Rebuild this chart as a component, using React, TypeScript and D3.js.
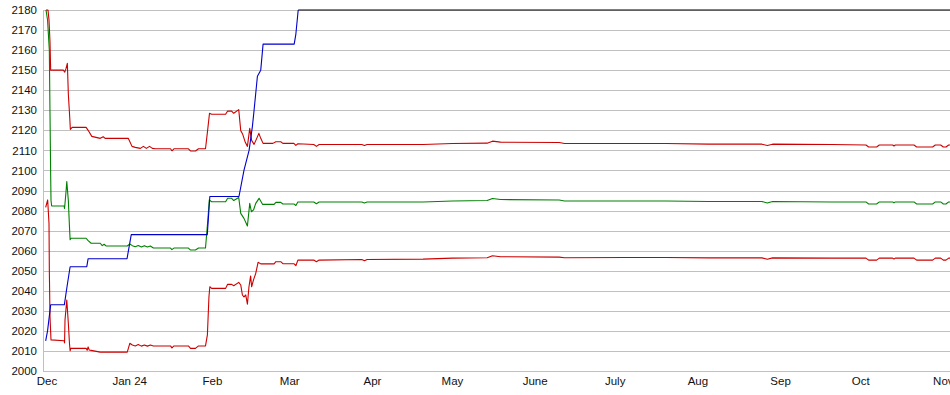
import * as d3 from "d3";
import { useEffect, useRef } from "react";

type Pt = [string, number];

const parseTime = d3.timeParse("%Y-%m-%d %H");

const yTicks = [2000, 2010, 2020, 2030, 2040, 2050, 2060, 2070, 2080, 2090, 2100, 2110, 2120, 2130, 2140, 2150, 2160, 2170, 2180];
const monthTicks = ["2023-12-01 00", "2024-01-01 00", "2024-02-01 00", "2024-03-01 00", "2024-04-01 00", "2024-05-01 00",
    "2024-06-01 00", "2024-07-01 00", "2024-08-01 00", "2024-09-01 00", "2024-10-01 00", "2024-11-01 00"];
const monthLabels = ["Dec", "Jan 24", "Feb", "Mar", "Apr", "May", "June", "July", "Aug", "Sep", "Oct", "Nov"];

const blueSeries: Pt[] = [
    ["2023-11-30 12", 2015], ["2023-12-01 05", 2020], ["2023-12-02 09", 2033], ["2023-12-07 12", 2033],
    ["2023-12-08 12", 2042], ["2023-12-09 16", 2052], ["2023-12-15 22", 2052], ["2023-12-16 10", 2056],
    ["2023-12-31 00", 2056], ["2024-01-01 14", 2068], ["2024-01-30 02", 2068], ["2024-01-31 01", 2087],
    ["2024-02-10 23", 2087], ["2024-02-12 20", 2100], ["2024-02-14 18", 2110], ["2024-02-16 00", 2122],
    ["2024-02-16 15", 2130], ["2024-02-17 21", 2147], ["2024-02-19 03", 2150], ["2024-02-20 00", 2163],
    ["2024-03-02 16", 2163], ["2024-03-03 07", 2168], ["2024-03-04 04", 2180],
];

const blackSeries: Pt[] = [["2024-03-04 04", 2180], ["2024-11-06 00", 2180]];

const upperRed: Pt[] = [
    ["2023-11-30 15", 2180], ["2023-12-01 09", 2180], ["2023-12-01 18", 2175], ["2023-12-02 03", 2164],
    ["2023-12-02 09", 2150], ["2023-12-07 03", 2150], ["2023-12-07 16", 2149], ["2023-12-08 04", 2151],
    ["2023-12-08 15", 2153.4], ["2023-12-09 00", 2138], ["2023-12-09 13", 2126], ["2023-12-09 18", 2120.5],
    ["2023-12-10 10", 2121.5], ["2023-12-15 16", 2121.5], ["2023-12-16 10", 2120], ["2023-12-17 19", 2117],
    ["2023-12-20 23", 2116], ["2023-12-22 02", 2116.8], ["2023-12-22 19", 2116], ["2023-12-31 11", 2116],
    ["2024-01-01 21", 2112], ["2024-01-03 02", 2111.5], ["2024-01-05 00", 2111], ["2024-01-06 03", 2112],
    ["2024-01-07 06", 2111], ["2024-01-08 10", 2112], ["2024-01-09 12", 2111], ["2024-01-10 15", 2110.8],
    ["2024-01-16 07", 2110.8], ["2024-01-16 20", 2109.8], ["2024-01-17 14", 2110.8], ["2024-01-23 00", 2110.8],
    ["2024-01-23 19", 2109.7], ["2024-01-25 16", 2109.7], ["2024-01-26 19", 2110.8], ["2024-01-29 10", 2110.8],
    ["2024-01-30 05", 2120], ["2024-01-30 22", 2128.5], ["2024-01-31 17", 2128], ["2024-02-05 23", 2128],
    ["2024-02-06 17", 2129.6], ["2024-02-08 05", 2129.6], ["2024-02-09 00", 2128.5], ["2024-02-10 21", 2130.3],
    ["2024-02-11 15", 2119.8], ["2024-02-12 09", 2118], ["2024-02-13 08", 2114], ["2024-02-14 03", 2112],
    ["2024-02-15 00", 2121], ["2024-02-15 17", 2115], ["2024-02-16 15", 2113], ["2024-02-17 15", 2116],
    ["2024-02-18 10", 2118.5], ["2024-02-19 03", 2116], ["2024-02-20 00", 2113.5], ["2024-02-23 16", 2113.5],
    ["2024-02-24 19", 2114.3], ["2024-02-26 15", 2114.3], ["2024-02-27 10", 2113.5], ["2024-03-02 13", 2113.5],
    ["2024-03-03 07", 2112.5], ["2024-03-04 01", 2113.3],
    ["2024-03-10 00", 2112.9], ["2024-03-11 00", 2112.0], ["2024-03-12 00", 2112.9], ["2024-03-28 00", 2112.9],
    ["2024-03-29 00", 2112.4], ["2024-03-30 00", 2112.9], ["2024-04-20 00", 2112.9], ["2024-05-01 00", 2113.4],
    ["2024-05-14 00", 2113.6], ["2024-05-16 00", 2114.6], ["2024-05-19 00", 2114.1], ["2024-06-10 00", 2113.9],
    ["2024-06-12 00", 2113.4], ["2024-07-05 00", 2113.4], ["2024-07-20 00", 2113.4], ["2024-08-05 00", 2113.1],
    ["2024-08-25 00", 2113.1], ["2024-08-27 00", 2112.4], ["2024-08-29 00", 2113.1], ["2024-09-20 00", 2112.9],
    ["2024-10-03 00", 2112.7], ["2024-10-04 00", 2111.7], ["2024-10-07 00", 2111.7], ["2024-10-08 00", 2112.7],
    ["2024-10-13 00", 2112.7], ["2024-10-13 12", 2112.2], ["2024-10-14 00", 2112.7], ["2024-10-21 00", 2112.7],
    ["2024-10-22 00", 2111.7], ["2024-10-28 00", 2111.7], ["2024-10-29 00", 2112.7], ["2024-10-31 00", 2112.7],
    ["2024-11-01 00", 2111.7], ["2024-11-02 00", 2111.7], ["2024-11-03 00", 2112.7], ["2024-11-06 00", 2112.7],
];

const greenSeries: Pt[] = [
    ["2023-11-30 15", 2180], ["2023-12-01 05", 2175], ["2023-12-01 21", 2160], ["2023-12-02 03", 2128.6],
    ["2023-12-02 09", 2097.7], ["2023-12-02 12", 2085], ["2023-12-02 18", 2082.3], ["2023-12-07 10", 2082.3],
    ["2023-12-07 14", 2081], ["2023-12-08 04", 2090], ["2023-12-08 10", 2094.5], ["2023-12-09 00", 2085],
    ["2023-12-09 10", 2072], ["2023-12-09 16", 2065.5], ["2023-12-10 00", 2066.2], ["2023-12-15 16", 2066.2],
    ["2023-12-16 10", 2065], ["2023-12-17 13", 2063.7], ["2023-12-20 23", 2063.7], ["2023-12-21 17", 2062.5],
    ["2023-12-22 10", 2063.2], ["2023-12-23 05", 2062.3], ["2023-12-31 02", 2062.3], ["2024-01-01 01", 2063.3],
    ["2024-01-02 00", 2062.5], ["2024-01-03 02", 2062], ["2024-01-04 05", 2062.6], ["2024-01-05 09", 2061.8],
    ["2024-01-06 12", 2062.5], ["2024-01-07 15", 2061.8], ["2024-01-08 18", 2062.3], ["2024-01-09 21", 2061.3],
    ["2024-01-16 07", 2061.3], ["2024-01-16 20", 2060.5], ["2024-01-17 14", 2061.3], ["2024-01-23 00", 2061.3],
    ["2024-01-23 19", 2060.3], ["2024-01-25 16", 2060.3], ["2024-01-26 19", 2061.3], ["2024-01-29 10", 2061.3],
    ["2024-01-30 07", 2075.3], ["2024-01-30 20", 2085.3], ["2024-01-31 17", 2084.4], ["2024-02-05 23", 2084.4],
    ["2024-02-06 17", 2086.1], ["2024-02-08 05", 2086.1], ["2024-02-09 00", 2085], ["2024-02-10 21", 2086.5],
    ["2024-02-11 15", 2078.6], ["2024-02-12 20", 2076.1], ["2024-02-14 03", 2072.3], ["2024-02-15 00", 2083.6],
    ["2024-02-15 15", 2079.4], ["2024-02-16 10", 2080.3], ["2024-02-17 06", 2083.6], ["2024-02-18 12", 2086.1],
    ["2024-02-19 19", 2083.1], ["2024-02-24 03", 2083.1], ["2024-02-24 19", 2084.1], ["2024-02-26 15", 2084.1],
    ["2024-02-27 10", 2083.3], ["2024-03-02 13", 2083.3], ["2024-03-03 07", 2082.5], ["2024-03-04 01", 2084.3],
    ["2024-03-10 00", 2084.3], ["2024-03-11 00", 2083.4], ["2024-03-12 00", 2084.3], ["2024-03-28 00", 2084.3],
    ["2024-03-29 00", 2083.8], ["2024-03-30 00", 2084.3], ["2024-04-20 00", 2084.3], ["2024-05-01 00", 2084.8],
    ["2024-05-14 00", 2085], ["2024-05-16 00", 2086], ["2024-05-19 00", 2085.5], ["2024-06-10 00", 2085.3],
    ["2024-06-12 00", 2084.8], ["2024-07-05 00", 2084.8], ["2024-07-20 00", 2084.8], ["2024-08-05 00", 2084.5],
    ["2024-08-25 00", 2084.5], ["2024-08-27 00", 2083.8], ["2024-08-29 00", 2084.5], ["2024-09-20 00", 2084.3],
    ["2024-10-03 00", 2084.3], ["2024-10-04 00", 2083.3], ["2024-10-07 00", 2083.3], ["2024-10-08 00", 2084.3],
    ["2024-10-13 00", 2084.3], ["2024-10-13 12", 2083.8], ["2024-10-14 00", 2084.3], ["2024-10-21 00", 2084.3],
    ["2024-10-22 00", 2083.3], ["2024-10-28 00", 2083.3], ["2024-10-29 00", 2084.3], ["2024-10-31 00", 2084.3],
    ["2024-11-01 00", 2083.3], ["2024-11-02 00", 2083.3], ["2024-11-03 00", 2084.3], ["2024-11-06 00", 2084.3],
];

const lowerRed: Pt[] = [
    ["2023-11-30 12", 2081.6], ["2023-12-01 06", 2085.3], ["2023-12-01 18", 2073.6], ["2023-12-01 21", 2050.4],
    ["2023-12-02 03", 2027], ["2023-12-02 12", 2015.5], ["2023-12-07 10", 2015.1], ["2023-12-07 14", 2014],
    ["2023-12-07 18", 2025.4], ["2023-12-08 10", 2035.4], ["2023-12-09 00", 2023.8], ["2023-12-09 10", 2013.8],
    ["2023-12-09 16", 2010.1], ["2023-12-09 22", 2011.3], ["2023-12-15 16", 2011.3], ["2023-12-16 01", 2010.3],
    ["2023-12-16 10", 2012], ["2023-12-16 19", 2010.5], ["2023-12-17 13", 2010.3], ["2023-12-20 23", 2009.4],
    ["2023-12-31 02", 2009.4], ["2024-01-01 01", 2013.8], ["2024-01-02 00", 2013], ["2024-01-03 02", 2012.5],
    ["2024-01-04 05", 2013.2], ["2024-01-05 09", 2012.4], ["2024-01-06 12", 2013], ["2024-01-07 15", 2012.4],
    ["2024-01-08 18", 2013], ["2024-01-09 21", 2012.5], ["2024-01-16 07", 2012.5], ["2024-01-16 20", 2011.5],
    ["2024-01-17 14", 2012.5], ["2024-01-23 00", 2012.5], ["2024-01-23 19", 2011.3], ["2024-01-25 16", 2011.3],
    ["2024-01-26 19", 2012.5], ["2024-01-29 10", 2012.5], ["2024-01-30 03", 2018], ["2024-01-30 17", 2037],
    ["2024-01-31 01", 2042], ["2024-01-31 17", 2041.2], ["2024-02-05 23", 2041.2], ["2024-02-06 17", 2043.2],
    ["2024-02-08 05", 2043.2], ["2024-02-09 00", 2042.5], ["2024-02-10 21", 2044.2], ["2024-02-11 15", 2042.9],
    ["2024-02-12 06", 2037.9], ["2024-02-12 20", 2037], ["2024-02-13 12", 2037.9], ["2024-02-14 03", 2033.3],
    ["2024-02-14 17", 2042], ["2024-02-15 08", 2047.4], ["2024-02-15 17", 2042], ["2024-02-16 10", 2045.4],
    ["2024-02-17 06", 2048.7], ["2024-02-18 03", 2054.2], ["2024-02-19 03", 2053.4], ["2024-02-24 03", 2053.4],
    ["2024-02-24 19", 2054.5], ["2024-02-26 15", 2054.5], ["2024-02-27 10", 2053.5], ["2024-03-02 13", 2053.5],
    ["2024-03-03 07", 2052.5], ["2024-03-04 01", 2055.3],
    ["2024-03-10 00", 2055.3], ["2024-03-11 00", 2054.5], ["2024-03-12 00", 2055.3], ["2024-03-28 00", 2055.6],
    ["2024-03-29 00", 2055.0], ["2024-03-30 00", 2055.6], ["2024-04-20 00", 2055.8], ["2024-05-01 00", 2056.3],
    ["2024-05-14 00", 2056.5], ["2024-05-16 00", 2057.5], ["2024-05-19 00", 2057], ["2024-06-10 00", 2056.8],
    ["2024-06-12 00", 2056.5], ["2024-07-05 00", 2056.6], ["2024-07-20 00", 2056.6], ["2024-08-05 00", 2056.4],
    ["2024-08-25 00", 2056.4], ["2024-08-27 00", 2055.7], ["2024-08-29 00", 2056.4], ["2024-09-20 00", 2056.3],
    ["2024-10-03 00", 2056.3], ["2024-10-04 00", 2055.3], ["2024-10-07 00", 2055.3], ["2024-10-08 00", 2056.3],
    ["2024-10-13 00", 2056.3], ["2024-10-13 12", 2055.8], ["2024-10-14 00", 2056.3], ["2024-10-21 00", 2056.3],
    ["2024-10-22 00", 2055.3], ["2024-10-28 00", 2055.3], ["2024-10-29 00", 2056.3], ["2024-10-31 00", 2056.3],
    ["2024-11-01 00", 2055.3], ["2024-11-02 00", 2055.3], ["2024-11-03 00", 2056.3], ["2024-11-06 00", 2056.3],
];

const series = [
    { data: greenSeries, color: "#008000" },
    { data: upperRed, color: "#cc0000" },
    { data: lowerRed, color: "#cc0000" },
    { data: blueSeries, color: "#0000cc" },
    { data: blackSeries, color: "#000000" },
];

export default function App() {
    const ref = useRef<SVGSVGElement>(null);

    const width = 950,
        height = 395,
        left = 44,
        top = 10,
        bottom = 371;

    useEffect(() => {
        const svg = d3.select(ref.current);
        svg.selectAll("*").remove();

        const x = d3.scaleTime()
            .domain([parseTime("2023-11-29 21")!, parseTime("2024-11-03 12")!])
            .range([left, width]);
        const y = d3.scaleLinear().domain([2000, 2180]).range([bottom, top]);

        const font = "'Liberation Sans', Arial, sans-serif";

        // grid
        svg.append("g")
            .selectAll("line")
            .data(yTicks)
            .join("line")
            .attr("x1", left)
            .attr("x2", width)
            .attr("y1", d => Math.round(y(d)) + 0.5)
            .attr("y2", d => Math.round(y(d)) + 0.5)
            .attr("stroke", "#c0c0c0")
            .attr("stroke-width", 1);

        svg.append("line")
            .attr("x1", left - 0.5)
            .attr("x2", left - 0.5)
            .attr("y1", top)
            .attr("y2", bottom + 1)
            .attr("stroke", "#c0c0c0");

        svg.append("g")
            .selectAll("text")
            .data(yTicks)
            .join("text")
            .attr("x", 37)
            .attr("y", d => y(d))
            .attr("dy", "0.36em")
            .attr("text-anchor", "end")
            .style("font-family", font)
            .style("font-size", "11.5px")
            .attr("fill", "#111")
            .text(d => d);

        svg.append("g")
            .selectAll("text")
            .data(monthTicks)
            .join("text")
            .attr("x", d => x(parseTime(d)!))
            .attr("y", 385)
            .attr("text-anchor", "middle")
            .style("font-family", font)
            .style("font-size", "11.5px")
            .attr("fill", "#111")
            .text((_d, i) => monthLabels[i]);

        const line = d3.line<Pt>()
            .x(d => x(parseTime(d[0])!))
            .y(d => y(d[1]));

        svg.append("g")
            .selectAll("path")
            .data(series)
            .join("path")
            .attr("d", d => line(d.data))
            .attr("fill", "none")
            .attr("stroke", d => d.color)
            .attr("stroke-width", 1.1)
            .attr("stroke-linejoin", "round");
    }, []);

    return (
        <svg ref={ref} width={width} height={height}
            style={{ position: "absolute", left: 0, top: 0, background: "#fff" }} />
    );
}
